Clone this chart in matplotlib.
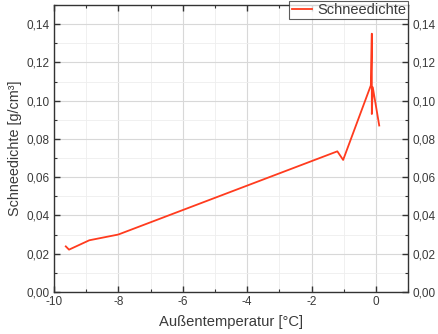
import matplotlib
matplotlib.use("Agg")
import matplotlib.pyplot as plt
from matplotlib.ticker import MultipleLocator, FuncFormatter

temperature = [-9.63, -9.53, -8.9, -8.0, -1.2, -1.02, -0.16, -0.13, -0.13, -0.1, 0.1]
density = [0.0238, 0.0221, 0.027, 0.030, 0.0735, 0.069, 0.108, 0.135, 0.093, 0.107, 0.087]

plt.rcParams['font.family'] = ['Liberation Sans', 'DejaVu Sans']
txt = '#3a3a3a'

fig = plt.figure(figsize=(4.38, 3.34), dpi=100)
ax = fig.add_axes([0.123, 0.126, 0.809, 0.859])
ax.plot(temperature, density, color='#ff3b1e', lw=1.3, label='Schneedichte')
ax.set_xlim(-10, 1)
ax.set_ylim(0, 0.15)
ax.xaxis.set_major_locator(MultipleLocator(2))
ax.xaxis.set_minor_locator(MultipleLocator(1))
ax.yaxis.set_major_locator(MultipleLocator(0.02))
ax.yaxis.set_minor_locator(MultipleLocator(0.01))
ax.yaxis.set_major_formatter(FuncFormatter(lambda v, p: f"{v:.2f}".replace('.', ',')))
ax.xaxis.set_major_formatter(FuncFormatter(lambda v, p: f"{v:.0f}"))
ax.grid(which='major', color='#d8d8d8', lw=0.8)
ax.grid(which='minor', color='#eeeeee', lw=0.6)
ax.set_axisbelow(True)
ax.tick_params(which='both', direction='in', top=True, right=True, labelright=True,
               colors='#333333', labelcolor=txt, labelsize=8.5)
ax.tick_params(which='major', length=4, width=1, pad=3)
ax.tick_params(which='minor', length=2, width=0.8)
for s in ax.spines.values():
    s.set_color('#333333')
    s.set_linewidth(1.0)
ax.set_xlabel('Außentemperatur [°C]', color=txt, fontsize=10.6, labelpad=5)
ax.set_ylabel('Schneedichte [g/cm³]', color=txt, fontsize=10.4, labelpad=3)
leg = ax.legend(loc='upper right', bbox_to_anchor=(1.0, 1.015), fontsize=10.5, frameon=True,
                fancybox=False, edgecolor='#333333', handlelength=1.4, handletextpad=0.35,
                borderpad=0.15, borderaxespad=0)
leg.get_frame().set_linewidth(0.8)
for t in leg.get_texts():
    t.set_color(txt)
fig.savefig('out.png', dpi=100)
